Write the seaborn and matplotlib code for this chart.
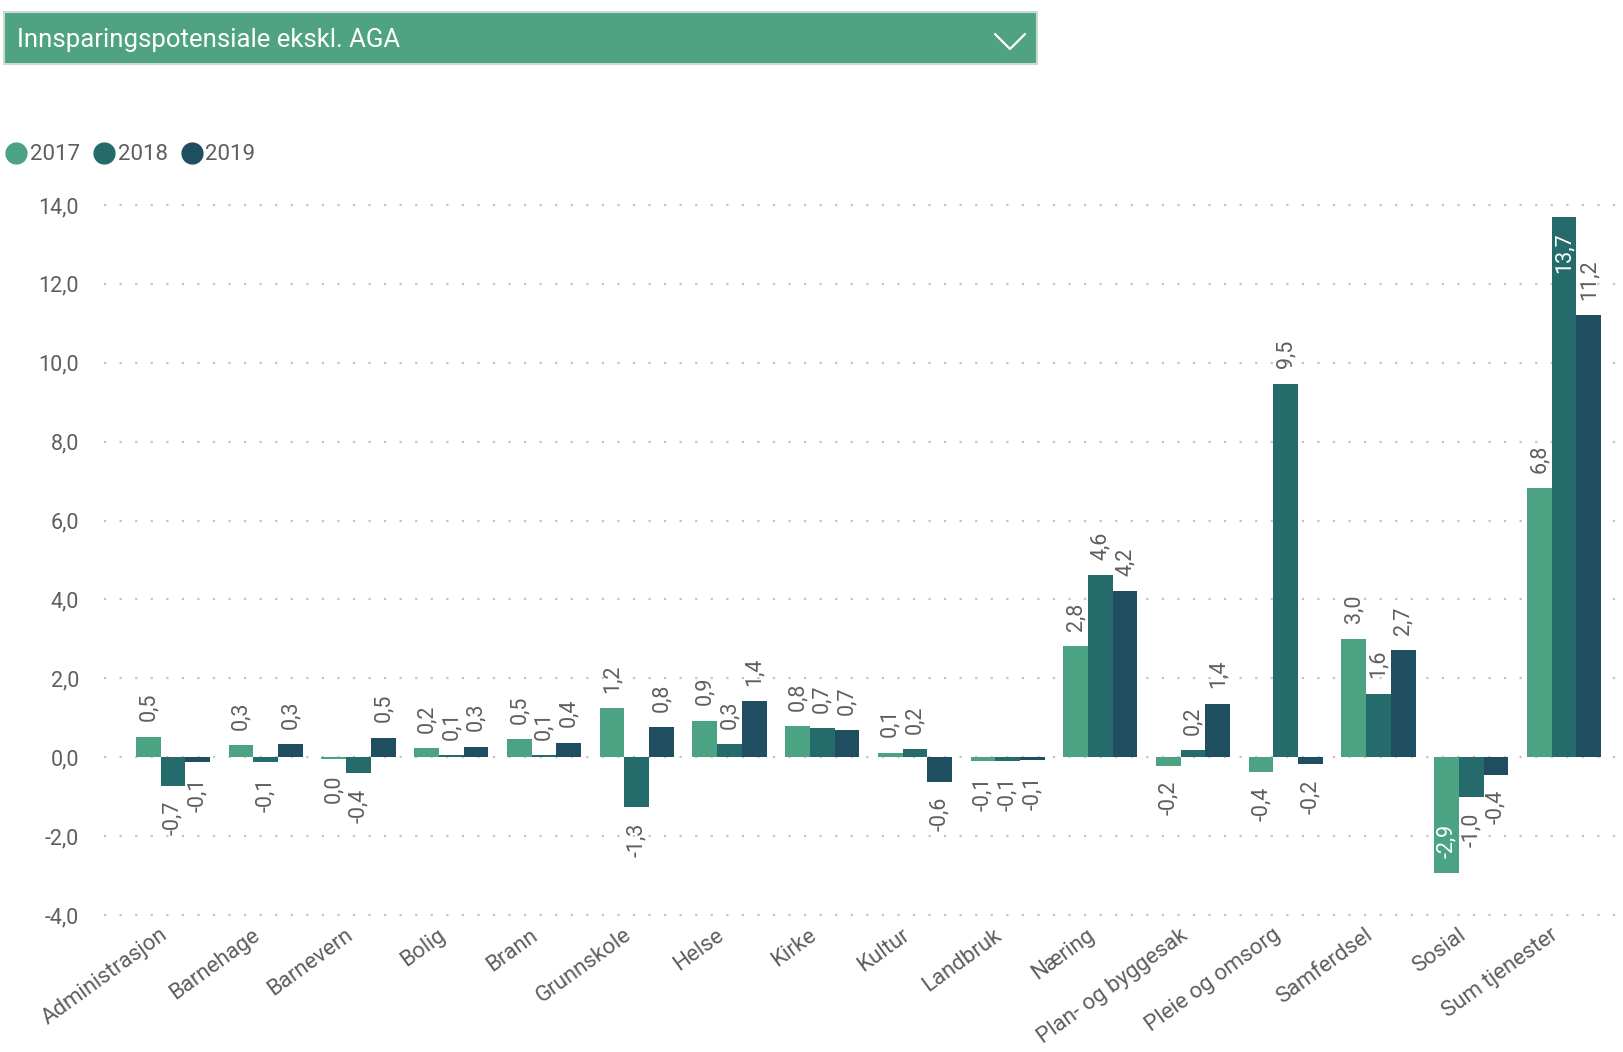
import matplotlib
matplotlib.use('Agg')
import matplotlib.pyplot as plt
import matplotlib.transforms as mtransforms
import seaborn as sns
import pandas as pd
from matplotlib.patches import Rectangle
from matplotlib.lines import Line2D

# ---------------- data ----------------
categories = ['Administrasjon', 'Barnehage', 'Barnevern', 'Bolig', 'Brann', 'Grunnskole',
              'Helse', 'Kirke', 'Kultur', 'Landbruk', 'Næring', 'Plan- og byggesak',
              'Pleie og omsorg', 'Samferdsel', 'Sosial', 'Sum tjenester']
years = ['2017', '2018', '2019']
v2017 = [0.52, 0.30, -0.04, 0.24, 0.46, 1.24, 0.93, 0.78, 0.12, -0.10, 2.82, -0.22, -0.37, 3.01, -2.94, 6.82]
v2018 = [-0.72, -0.12, -0.40, 0.06, 0.06, -1.27, 0.33, 0.73, 0.20, -0.10, 4.61, 0.18, 9.47, 1.61, -1.02, 13.70]
v2019 = [-0.12, 0.34, 0.50, 0.27, 0.37, 0.76, 1.42, 0.68, -0.62, -0.08, 4.21, 1.36, -0.18, 2.72, -0.44, 11.21]
yticks = [-4, -2, 0, 2, 4, 6, 8, 10, 12, 14]
title = 'Innsparingspotensiale ekskl. AGA'
colors = ['#4CA383', '#256B6C', '#1F4E60']

# ---------------- style ----------------
sns.set_theme(style='white')
plt.rcParams['font.family'] = ['Roboto', 'DejaVu Sans']

W, H = 1624, 1052
fig = plt.figure(figsize=(W / 100, H / 100), dpi=100)


def fx(x):
    return x / W


def fy(y):
    return 1 - y / H


ylo, yhi = -4.1, 14.1
ax_top, ax_bot = 201, 919
ax = fig.add_axes([fx(104), fy(ax_bot), fx(1616) - fx(104), fy(ax_top) - fy(ax_bot)])

df = pd.DataFrame({
    'Kategori': categories * 3,
    'År': [y for y in years for _ in categories],
    'Verdi': v2017 + v2018 + v2019,
})
sns.barplot(data=df, x='Kategori', y='Verdi', hue='År', hue_order=years,
            palette=colors, saturation=1, errorbar=None, width=0.8,
            legend=False, ax=ax, linewidth=0)

ax.set_ylim(ylo, yhi)
ax.set_xlim(-0.744, 15.56)
ax.set_yticks(yticks)
ax.set_yticklabels([f"{t:.1f}".replace('.', ',') for t in yticks])
ax.yaxis.grid(True, linestyle=(0, (1, 6)), color='#c4c4c4', linewidth=1.6)
ax.xaxis.grid(False)
ax.set_axisbelow(True)
for s in ax.spines.values():
    s.set_visible(False)
ax.set_xlabel('')
ax.set_ylabel('')
ax.tick_params(axis='y', length=0, pad=18, labelsize=15.5, labelcolor='#605E5C')
ax.tick_params(axis='x', length=0, pad=4, labelsize=16, labelcolor='#605E5C')
ax.set_xticks(range(len(categories)))
ax.set_xticklabels(categories, rotation=36, ha='right', rotation_mode='anchor')
shift = mtransforms.ScaledTranslation(-14 / 100, 0, fig.dpi_scale_trans)
for lab in ax.get_xticklabels():
    lab.set_transform(lab.get_transform() + shift)

# ---------------- data labels ----------------
fs = 15.5
px_per_unit = (ax_bot - ax_top) / (yhi - ylo)
for cont in ax.containers:
    for bar, v in zip(cont, cont.datavalues):
        xc = bar.get_x() + bar.get_width() / 2
        txt = f"{v:.1f}".replace('.', ',')
        if txt == '-0,0':
            txt = '0,0'
        ext = (len(txt) * 0.5 * fs * 1.389 + 17) / px_per_unit
        if v >= 0:
            if v + ext > yhi:
                ax.annotate(txt, (xc, v), xytext=(0, -11), textcoords='offset points',
                            rotation=90, ha='center', va='top', fontsize=fs, color='white')
            else:
                ax.annotate(txt, (xc, v), xytext=(0, 11), textcoords='offset points',
                            rotation=90, ha='center', va='bottom', fontsize=fs, color='#605E5C')
        else:
            if v - ext < ylo:
                ax.annotate(txt, (xc, v), xytext=(0, 11), textcoords='offset points',
                            rotation=90, ha='center', va='bottom', fontsize=fs, color='white')
            else:
                ax.annotate(txt, (xc, v), xytext=(0, -11), textcoords='offset points',
                            rotation=90, ha='center', va='top', fontsize=fs, color='#605E5C')

# ---------------- header ----------------
fig.add_artist(Rectangle((fx(4), fy(64)), fx(1037) - fx(4), fy(12) - fy(64),
                         transform=fig.transFigure, facecolor='#4FA383',
                         edgecolor='#c9dcd3', linewidth=1.5))
fig.text(fx(17), fy(40), title, color='white', fontsize=18.5, ha='left', va='center')
fig.add_artist(Line2D([fx(995), fx(1010), fx(1025)], [fy(34), fy(49), fy(34)],
                      transform=fig.transFigure, color='white', linewidth=1.6))

# ---------------- legend ----------------
handles = [Line2D([], [], marker='o', linestyle='', color=c, markersize=15) for c in colors]
fig.legend(handles, years, loc='center left', bbox_to_anchor=(fx(3), fy(155)),
           ncol=3, frameon=False, handletextpad=0.0, columnspacing=0.5,
           borderaxespad=0, borderpad=0, handlelength=1.2, fontsize=16,
           labelcolor='#605E5C')

fig.savefig('out.png', dpi=100)
